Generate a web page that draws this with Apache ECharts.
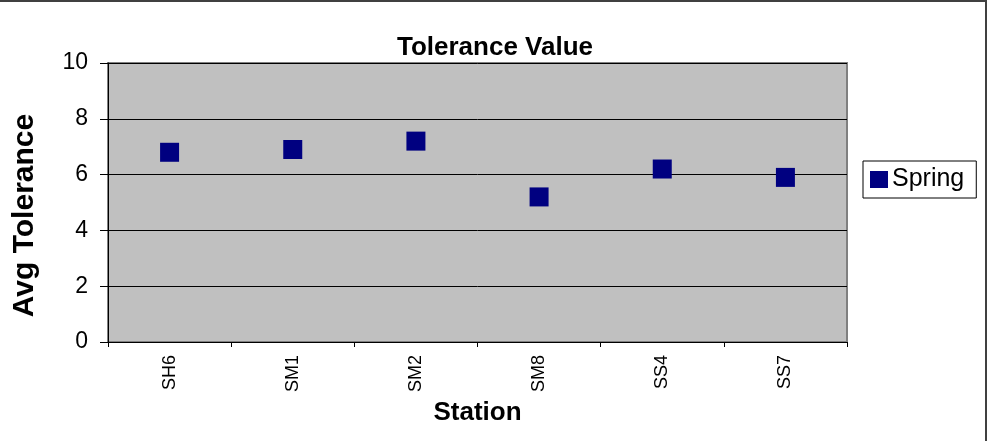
<!DOCTYPE html>
<html>
<head>
<meta charset="utf-8">
<script src="https://cdn.jsdelivr.net/npm/echarts@6/dist/echarts.min.js"></script>
<style>
  html, body { margin: 0; padding: 0; background: #ffffff; }
  #chart { width: 988px; height: 441px; }
</style>
</head>
<body>
<div id="chart"></div>
<script>
// Average tolerance value per sampling station (spring)
const stations = ['SH6', 'SM1', 'SM2', 'SM8', 'SS4', 'SS7'];
const springTolerance = [6.8, 6.9, 7.2, 5.2, 6.2, 5.9];
const yTicks = { min: 0, max: 10, interval: 2 };

const FONT = '"Liberation Sans", Arial, sans-serif';

const chart = echarts.init(document.getElementById('chart'), null, { renderer: 'canvas' });

chart.setOption({
  backgroundColor: '#ffffff',
  animation: false,
  textStyle: { fontFamily: FONT },
  title: {
    text: 'Tolerance Value',
    left: 490,
    textAlign: 'center',
    top: 30,
    textStyle: { fontFamily: FONT, fontSize: 26, fontWeight: 'bold', color: '#000' }
  },
  graphic: [
    {
      type: 'rect',
      shape: { x: -10, y: 1, width: 996, height: 470 },
      style: { fill: 'none', stroke: '#404040', lineWidth: 2 },
      silent: true,
      z: 100
    }
  ],
  legend: {
    left: 863,
    top: 161,
    orient: 'vertical',
    icon: 'rect',
    itemWidth: 18,
    itemHeight: 17,
    itemGap: 4,
    padding: [6, 12, 6, 7],
    borderColor: '#000',
    borderWidth: 1,
    backgroundColor: '#fff',
    textStyle: { fontFamily: FONT, fontSize: 25, color: '#000', padding: [0, 0, 0, -1] },
    data: ['Spring']
  },
  grid: {
    left: 108,
    right: 141,
    top: 63,
    bottom: 99,
    show: true,
    backgroundColor: '#C0C0C0',
    borderColor: '#808080',
    borderWidth: 2
  },
  xAxis: {
    type: 'category',
    data: stations,
    boundaryGap: true,
    name: 'Station',
    nameLocation: 'middle',
    nameGap: 51,
    nameTextStyle: { fontFamily: FONT, fontSize: 26, fontWeight: 'bold', color: '#000' },
    axisLine: { show: true, lineStyle: { color: '#000', width: 1 } },
    axisTick: { show: true, alignWithLabel: false, length: 5, lineStyle: { color: '#000' } },
    axisLabel: {
      rotate: 90,
      margin: 13,
      fontFamily: FONT,
      fontSize: 18,
      color: '#000'
    },
    splitLine: { show: false }
  },
  yAxis: {
    type: 'value',
    min: yTicks.min,
    max: yTicks.max,
    interval: yTicks.interval,
    name: 'Avg Tolerance',
    nameLocation: 'middle',
    nameGap: 68,
    nameRotate: 90,
    nameTextStyle: {
      fontFamily: FONT,
      fontSize: 30,
      fontWeight: 'bold',
      color: '#000',
      padding: [0, 26, 0, 0]
    },
    axisLine: { show: true, lineStyle: { color: '#000', width: 1 } },
    axisTick: { show: true, length: 8, lineStyle: { color: '#000' } },
    axisLabel: { margin: 20, fontFamily: FONT, fontSize: 23, color: '#000' },
    splitLine: { show: true, lineStyle: { color: '#000', width: 1 } }
  },
  series: [
    {
      name: 'Spring',
      type: 'scatter',
      symbol: 'rect',
      symbolSize: 19,
      itemStyle: { color: '#000080', opacity: 1 },
      data: springTolerance
    }
  ]
});
</script>
</body>
</html>
